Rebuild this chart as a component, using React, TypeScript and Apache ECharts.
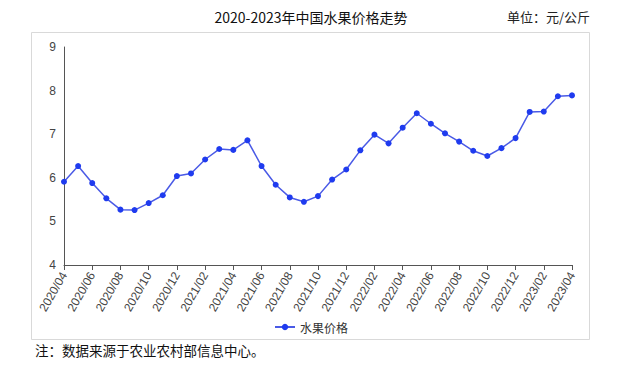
import React, { useEffect, useRef } from "react";
import * as echarts from "echarts";

const categories = [
  "2020/04","2020/05","2020/06","2020/07","2020/08","2020/09","2020/10","2020/11","2020/12",
  "2021/01","2021/02","2021/03","2021/04","2021/05","2021/06","2021/07","2021/08","2021/09","2021/10","2021/11","2021/12",
  "2022/01","2022/02","2022/03","2022/04","2022/05","2022/06","2022/07","2022/08","2022/09","2022/10","2022/11","2022/12",
  "2023/01","2023/02","2023/03","2023/04",
];
const fruitPrice = [
  5.91, 6.27, 5.88, 5.53, 5.27, 5.26, 5.42, 5.60, 6.04,
  6.10, 6.42, 6.66, 6.64, 6.86, 6.27, 5.84, 5.55, 5.45, 5.58, 5.96, 6.19,
  6.63, 6.99, 6.79, 7.15, 7.48, 7.24, 7.02, 6.83, 6.62, 6.50, 6.68, 6.91,
  7.51, 7.52, 7.87, 7.89,
];
const seriesName = "水果价格";
const titleText = "2020-2023年中国水果价格走势";
const unitText = "单位：元/公斤";
const noteText = "注：数据来源于农业农村部信息中心。";

export default function App() {
  const ref = useRef<HTMLDivElement>(null);
  useEffect(() => {
    if (!ref.current) return;
    const chart = echarts.init(ref.current, null, { renderer: "svg" });
    const cjk = "'Noto Sans CJK SC', sans-serif";
    chart.setOption({
      animation: false,
      backgroundColor: "#fff",
      title: {
        text: titleText,
        left: "center",
        top: 5,
        textStyle: { fontSize: 14, fontWeight: "normal", color: "#111", fontFamily: cjk },
      },
      graphic: [
        {
          type: "rect",
          shape: { x: 31.5, y: 32.5, width: 558, height: 307 },
          style: { fill: "none", stroke: "#d9d9d9", lineWidth: 1 },
          silent: true,
          z: -1,
        },
        {
          type: "text",
          right: 32,
          top: 10,
          style: { text: unitText, fontSize: 13, fill: "#222", fontFamily: cjk },
        },
        {
          type: "text",
          left: 35,
          top: 343,
          style: { text: noteText, fontSize: 13.5, fill: "#111", fontFamily: cjk },
        },
      ],
      legend: {
        data: [seriesName],
        top: 316,
        left: "center",
        itemWidth: 20,
        itemHeight: 8,
        textStyle: { fontSize: 12, color: "#333", fontFamily: cjk },
      },
      grid: { left: 64, right: 50, top: 47, bottom: 102, containLabel: false },
      xAxis: {
        type: "category",
        data: categories,
        boundaryGap: false,
        axisLine: { lineStyle: { color: "#555" } },
        axisTick: { interval: 1, lineStyle: { color: "#555" } },
        axisLabel: {
          interval: 1,
          rotate: 60,
          fontSize: 12,
          color: "#444",
          fontFamily: "'Liberation Sans', sans-serif",
        },
      },
      yAxis: {
        type: "value",
        min: 4,
        max: 9,
        interval: 1,
        splitLine: { show: false },
        axisLine: { show: true, lineStyle: { color: "#555" } },
        axisTick: { show: false },
        axisLabel: { fontSize: 12, color: "#444", fontFamily: "'Liberation Sans', sans-serif" },
      },
      series: [
        {
          name: seriesName,
          type: "line",
          data: fruitPrice,
          symbol: "circle",
          symbolSize: 6,
          itemStyle: { color: "#1f3bef" },
          lineStyle: { color: "#4a5ae6", width: 1.5 },
        },
      ],
    });
    return () => chart.dispose();
  }, []);
  return (
    <div
      ref={ref}
      style={{ position: "fixed", left: 0, top: 0, width: 622, height: 367 }}
    />
  );
}
